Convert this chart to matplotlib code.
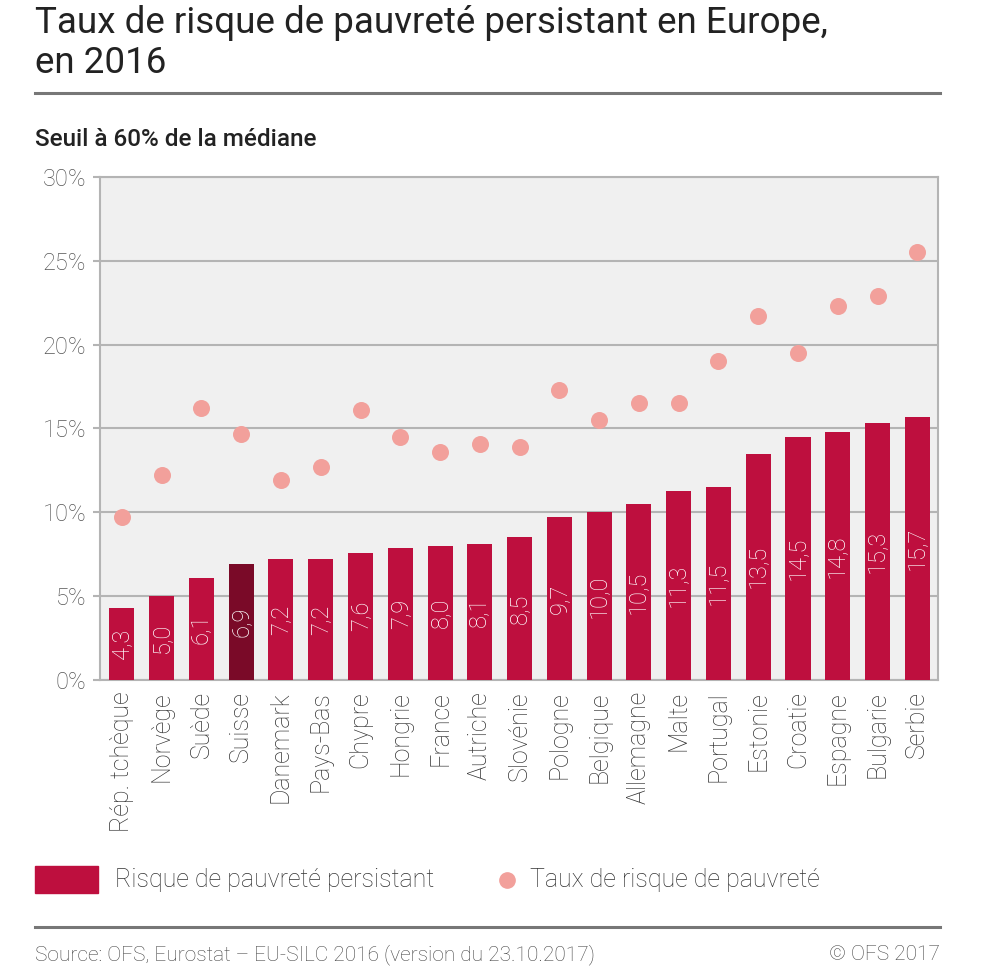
import matplotlib
matplotlib.use('Agg')
import matplotlib.pyplot as plt
from matplotlib.patches import Rectangle
from matplotlib.lines import Line2D
import numpy as np

countries = ['Rép. tchèque', 'Norvège', 'Suède', 'Suisse', 'Danemark', 'Pays-Bas',
             'Chypre', 'Hongrie', 'France', 'Autriche', 'Slovénie', 'Pologne',
             'Belgique', 'Allemagne', 'Malte', 'Portugal', 'Estonie', 'Croatie',
             'Espagne', 'Bulgarie', 'Serbie']
persistent = [4.3, 5.0, 6.1, 6.9, 7.2, 7.2, 7.6, 7.9, 8.0, 8.1, 8.5, 9.7,
              10.0, 10.5, 11.3, 11.5, 13.5, 14.5, 14.8, 15.3, 15.7]
poverty_rate = [9.7, 12.2, 16.2, 14.7, 11.9, 12.7, 16.1, 14.5, 13.6, 14.1, 13.9, 17.3,
                15.5, 16.5, 16.5, 19.0, 21.7, 19.5, 22.3, 22.9, 25.5]
highlight = 'Suisse'

bar_color = '#be0f3e'
bar_dark = '#7a0a28'
dot_color = '#f2a09b'
text_color = '#333333'
grid_color = '#b4b4b4'

plt.rcParams['font.family'] = ['Roboto', 'DejaVu Sans']

fig = plt.figure(figsize=(10, 9.67), dpi=100)
ax = fig.add_axes([0.100, 0.2968, 0.838, 0.5202])
ax.set_facecolor('#f0f0f0')

x = np.arange(len(countries))
colors = [bar_dark if c == highlight else bar_color for c in countries]
ax.bar(x, persistent, width=0.63, color=colors, zorder=3)
ax.scatter(x, poverty_rate, s=150, color=dot_color, zorder=4, linewidths=0)

for xi, v in zip(x, persistent):
    ax.text(xi, v / 2, f'{v:.1f}'.replace('.', ','), rotation=90, ha='center',
            va='center', color='white', fontsize=17, fontweight='light', zorder=5)

ax.set_xlim(-0.55, len(countries) - 0.48)
ax.set_ylim(0, 30)
ax.set_yticks(range(0, 31, 5))
ax.set_yticklabels([f'{t}%' for t in range(0, 31, 5)], fontsize=17,
                   fontweight='light', color='#555555')
ax.set_xticks(x)
ax.set_xticklabels(countries, rotation=90, fontsize=18, fontweight='light',
                   color=text_color)
ax.tick_params(axis='x', length=0, pad=8)
ax.tick_params(axis='y', length=5, width=1.5, color=grid_color, pad=5)
ax.grid(axis='y', color=grid_color, linewidth=1.5, zorder=1)
for s in ax.spines.values():
    s.set_color(grid_color)
    s.set_linewidth(1.5)

# title (two lines) and rules
fig.text(0.035, 1 - 33 / 967, 'Taux de risque de pauvreté persistant en Europe,',
         fontsize=26.5, color='#222222', va='baseline', ha='left')
fig.text(0.035, 1 - 73 / 967, 'en 2016',
         fontsize=26.5, color='#222222', va='baseline', ha='left')
fig.add_artist(Line2D([0.035, 0.940], [1 - 93 / 967] * 2, color='#777777', linewidth=2.2))
fig.text(0.035, 1 - 140 / 967, 'Seuil à 60% de la médiane', fontsize=17.5,
         fontweight='medium', color='#222222', va='center', ha='left')

# legend
fig.add_artist(Rectangle((0.035, 1 - 893 / 967), 0.063, 27 / 967, color=bar_color,
                         transform=fig.transFigure))
fig.text(0.115, 1 - 880 / 967, 'Risque de pauvreté persistant', fontsize=18,
         fontweight='light', color=text_color, va='center', ha='left')
fig.add_artist(Line2D([0.507], [1 - 880 / 967], marker='o', markersize=11,
                      color=dot_color, linestyle='none'))
fig.text(0.530, 1 - 880 / 967, 'Taux de risque de pauvreté', fontsize=18,
         fontweight='light', color=text_color, va='center', ha='left')

fig.add_artist(Line2D([0.035, 0.940], [1 - 927 / 967] * 2, color='#777777', linewidth=2.2))
fig.text(0.035, 1 - 955 / 967, 'Source: OFS, Eurostat – EU-SILC 2016 (version du 23.10.2017)',
         fontsize=15, fontweight='light', color='#444444', va='center', ha='left')
fig.text(0.940, 1 - 955 / 967, '© OFS 2017', fontsize=15, fontweight='light',
         color='#444444', va='center', ha='right')

fig.savefig('out.png', dpi=100, facecolor='white')
